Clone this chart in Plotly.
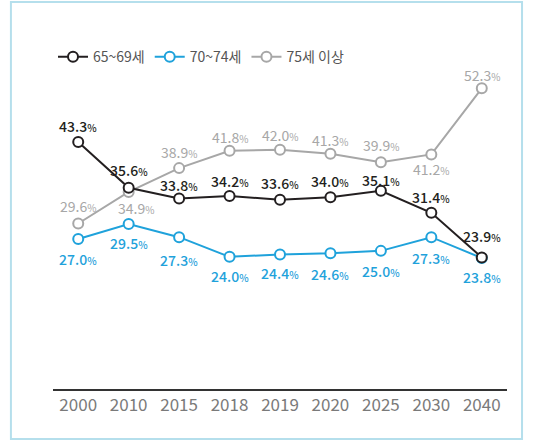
import plotly.graph_objects as go

years = ["2000", "2010", "2015", "2018", "2019", "2020", "2025", "2030", "2040"]
age_65_69 = [43.3, 35.6, 33.8, 34.2, 33.6, 34.0, 35.1, 31.4, 23.9]
age_70_74 = [27.0, 29.5, 27.3, 24.0, 24.4, 24.6, 25.0, 27.3, 23.8]
age_75_up = [29.6, 34.9, 38.9, 41.8, 42.0, 41.3, 39.9, 41.2, 52.3]
names = ["65~69세", "70~74세", "75세 이상"]

# label pixel offsets (style)
off_black = [(0, 16), (0, 18), (0, 13), (0, 15), (0, 17), (0, 16), (0, 11), (0, 16), (0, 21)]
off_blue = [(0, -20), (0, -19), (0, -23), (0, -19), (0, -19), (0, -21), (0, -20), (0, -21), (0, -19)]
off_gray = [(0, 17), (7, -16), (0, 16), (0, 14), (0, 15), (0, 14), (0, 17), (0, -15), (0, 13)]

C_BLACK = "#231f20"
C_BLUE = "#1fa2db"
C_GRAY = "#a7a7a7"
FONT = "Noto Sans CJK KR"

fig = go.Figure()
series = [
    (names[2], age_75_up, C_GRAY, 3),
    (names[1], age_70_74, C_BLUE, 2),
    (names[0], age_65_69, C_BLACK, 1),
]
for nm, vals, col, rank in series:
    fig.add_trace(go.Scatter(
        x=years, y=vals, name=nm, mode="lines+markers",
        line=dict(color=col, width=2),
        marker=dict(symbol="circle", size=10, color="white", line=dict(color=col, width=2)),
        legendrank=rank, cliponaxis=False,
    ))

annos = []
for vals, col, offs, wt in [(age_65_69, C_BLACK, off_black, 500),
                            (age_70_74, C_BLUE, off_blue, 500),
                            (age_75_up, C_GRAY, off_gray, 400)]:
    for i, (v, (dx, dy)) in enumerate(zip(vals, offs)):
        txt = f"{v:.1f}<span style='font-size:10px'>%</span>"
        annos.append(dict(x=i, y=v, xref="x", yref="y", text=txt, showarrow=False,
                          xshift=dx, yshift=dy,
                          font=dict(family=FONT, size=14, color=col, weight=wt)))

fig.update_layout(
    width=550, height=441,
    margin=dict(l=53, r=43, t=80, b=52),
    paper_bgcolor="white", plot_bgcolor="white",
    font=dict(family=FONT),
    showlegend=True,
    legend=dict(orientation="h", x=0.0, y=1.074, xanchor="left", yanchor="middle",
                font=dict(family=FONT, size=14, color="#555555"),
                traceorder="normal", itemclick=False),
    annotations=annos,
    xaxis=dict(type="category", range=[-0.5, 8.5], showgrid=False, zeroline=False,
               showline=True, linecolor="#333333", linewidth=2,
               ticks="", tickfont=dict(family=FONT, size=17, color="#7a7a7a")),
    yaxis=dict(range=[1.8, 53.7], visible=False, showgrid=False, zeroline=False),
    shapes=[dict(type="rect", xref="paper", yref="paper",
                 x0=-0.0927, x1=1.0331, y0=-0.1618, y1=1.2524,
                 line=dict(color="#b5dfec", width=2), fillcolor="rgba(0,0,0,0)", layer="below")],
)

fig.write_html("out.html")
